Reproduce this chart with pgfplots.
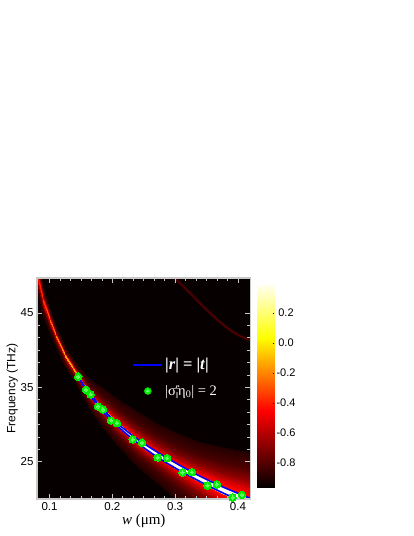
\documentclass[border=0pt]{standalone}
\usepackage{fontspec}
\setmainfont{Liberation Sans}
\newfontfamily\tms{Liberation Serif}
\usepackage{pgfplots}
\pgfplotsset{compat=1.18}
\definecolor{frm}{RGB}{200,200,200}
\definecolor{mkout}{RGB}{0,235,0}
\definecolor{mkin}{RGB}{100,255,100}
\definecolor{ridgea}{RGB}{40,0,0}
\definecolor{ridgeb}{RGB}{85,0,0}
\definecolor{bgk}{RGB}{6,0,0}
\pgfplotsset{
  colormap={hotw}{rgb255(0)=(0,0,0) rgb255(38)=(255,0,0) rgb255(74)=(255,255,0) rgb255(100)=(255,255,240)},
}
\begin{document}
\begin{tikzpicture}[x=1pt,y=1pt]
\useasboundingbox (0,0) rectangle (414,536);
\begin{axis}[
  at={(37pt,37pt)}, anchor=south west,
  scale only axis, width=213.5pt, height=221pt,
  xmin=0.08, xmax=0.42, ymin=20, ymax=49.7,
  xtick={0.1,0.2,0.3,0.4}, xticklabels={0.1,0.2,0.3,0.4},
  ytick={25,35,45}, yticklabels={25,35,45},
  minor x tick num=5, minor y tick num=5,
  tick align=inside,
  major tick length=5pt, minor tick length=3pt,
  tick style={color=frm, line width=0.7pt},
  axis line style={color=frm, line width=1.3pt},
  axis on top=true,
  axis background/.style={fill=bgk},
  point meta min=-0.967, point meta max=0.387,
  tick label style={font=\fontsize{11.5}{13}\selectfont, text=black},
  xlabel={\fontsize{15}{16}\selectfont\tms\textit{w} (μm)},
  ylabel={\fontsize{12}{15}\selectfont Frequency (THz)},
  xlabel style={yshift=3pt},
  ylabel style={yshift=-4pt},
  legend style={at={(axis cs:0.2318,39.2)}, anchor=north west, draw=none, fill=none,
    text=white, font=\fontsize{14.5}{16}\selectfont\tms, row sep=10pt, inner sep=0pt,
    /tikz/every even column/.append style={column sep=2pt}},
  legend cell align=left,
]
% heat map
\addplot[surf, shader=interp, mesh/rows=15, mesh/cols=15, point meta=explicit, forget plot] coordinates {
(0.080,52.52)[-.97] (0.080,52.5)[-.88] (0.080,51.63)[-.85] (0.080,51)[-.72] (0.080,50.55)[-.55] (0.080,50.35)[-.45] (0.080,50.25)[-.42] (0.080,50)[-.42] (0.080,49.75)[-.42] (0.080,49.65)[-.45] (0.080,49.45)[-.55] (0.080,49)[-.72] (0.080,48.38)[-.85] (0.080,47.5)[-.88] (0.080,47.48)[-.97]
(0.090,48.42)[-.97] (0.090,48.4)[-.88] (0.090,47.77)[-.85] (0.090,47.32)[-.72] (0.090,47.0)[-.55] (0.090,46.9)[-.45] (0.090,46.8)[-.35] (0.090,46.6)[-.35] (0.090,46.4)[-.35] (0.090,46.3)[-.45] (0.090,46.16)[-.55] (0.090,45.8)[-.72] (0.090,45.3)[-.85] (0.090,44.6)[-.88] (0.090,44.58)[-.97]
(0.100,45.47)[-.97] (0.100,45.45)[-.88] (0.100,44.93)[-.85] (0.100,44.55)[-.72] (0.100,44.28)[-.55] (0.100,44.2)[-.45] (0.100,44.1)[-.28] (0.100,43.95)[-.28] (0.100,43.8)[-.28] (0.100,43.7)[-.45] (0.100,43.6)[-.55] (0.100,43.31)[-.72] (0.100,42.91)[-.85] (0.100,42.35)[-.88] (0.100,42.33)[-.97]
(0.110,43.12)[-.97] (0.110,43.1)[-.88] (0.110,42.65)[-.85] (0.110,42.32)[-.72] (0.110,42.09)[-.55] (0.110,42.02)[-.45] (0.110,41.92)[-.22] (0.110,41.8)[-.22] (0.110,41.68)[-.22] (0.110,41.58)[-.45] (0.110,41.49)[-.55] (0.110,41.24)[-.72] (0.110,40.89)[-.85] (0.110,40.4)[-.88] (0.110,40.38)[-.97]
(0.125,40.42)[-.97] (0.125,40.4)[-.88] (0.125,39.98)[-.85] (0.125,39.68)[-.72] (0.125,39.46)[-.55] (0.125,39.42)[-.45] (0.125,39.32)[-.15] (0.125,39.2)[-.15] (0.125,39.08)[-.15] (0.125,38.98)[-.45] (0.125,38.89)[-.55] (0.125,38.64)[-.72] (0.125,38.29)[-.85] (0.125,37.8)[-.88] (0.125,37.78)[-.97]
(0.145,37.87)[-.97] (0.145,37.85)[-.89] (0.145,37.36)[-.85] (0.145,37.01)[-.74] (0.145,36.76)[-.58] (0.145,36.67)[-.45] (0.145,36.57)[-.1] (0.145,36.45)[-.1] (0.145,36.33)[-.1] (0.145,36.23)[-.45] (0.145,36.1)[-.58] (0.145,35.81)[-.74] (0.145,35.41)[-.85] (0.145,34.85)[-.89] (0.145,34.83)[-.97]
(0.165,36.17)[-.97] (0.165,36.15)[-.90] (0.165,35.38)[-.84] (0.165,34.83)[-.74] (0.165,34.43)[-.6] (0.165,34.19)[-.45] (0.165,34.09)[-.02] (0.165,33.95)[-.02] (0.165,33.81)[-.02] (0.165,33.71)[-.45] (0.165,33.51)[-.6] (0.165,33.15)[-.74] (0.165,32.65)[-.84] (0.165,31.95)[-.90] (0.165,31.93)[-.97]
(0.185,34.92)[-.97] (0.185,34.9)[-.90] (0.185,33.85)[-.84] (0.185,33.1)[-.74] (0.185,32.56)[-.6] (0.185,32.18)[-.45] (0.185,32.08)[.1] (0.185,31.9)[.1] (0.185,31.72)[.1] (0.185,31.62)[-.45] (0.185,31.39)[-.6] (0.185,30.98)[-.74] (0.185,30.4)[-.84] (0.185,29.6)[-.90] (0.185,29.58)[-.97]
(0.21,33.37)[-.97] (0.21,33.35)[-.90] (0.21,32.13)[-.84] (0.21,31.25)[-.74] (0.21,30.62)[-.6] (0.21,30.15)[-.45] (0.21,30.05)[.25] (0.21,29.85)[.25] (0.21,29.65)[.25] (0.21,29.55)[-.45] (0.21,29.23)[-.6] (0.21,28.73)[-.74] (0.21,28.03)[-.84] (0.21,27.05)[-.90] (0.21,27.03)[-.97]
(0.24,31.82)[-.97] (0.24,31.8)[-.90] (0.24,30.4)[-.84] (0.24,29.4)[-.74] (0.24,28.68)[-.6] (0.24,28.15)[-.45] (0.24,28.05)[.38] (0.24,27.8)[.38] (0.24,27.55)[.38] (0.24,27.45)[-.45] (0.24,27.07)[-.6] (0.24,26.48)[-.74] (0.24,25.66)[-.84] (0.24,24.5)[-.90] (0.24,24.48)[-.97]
(0.27,30.27)[-.97] (0.27,30.25)[-.90] (0.27,28.78)[-.84] (0.27,27.73)[-.74] (0.27,26.97)[-.6] (0.27,26.45)[-.45] (0.27,26.35)[.38] (0.27,26.05)[.38] (0.27,25.75)[.38] (0.27,25.65)[-.45] (0.27,25.21)[-.6] (0.27,24.53)[-.74] (0.27,23.58)[-.84] (0.27,22.25)[-.90] (0.27,22.23)[-.97]
(0.30,29.02)[-.97] (0.30,29)[-.90] (0.30,27.43)[-.84] (0.30,26.3)[-.74] (0.30,25.49)[-.6] (0.30,24.95)[-.45] (0.30,24.85)[.38] (0.30,24.5)[.38] (0.30,24.15)[.38] (0.30,24.05)[-.45] (0.30,23.53)[-.6] (0.30,22.74)[-.74] (0.30,21.64)[-.84] (0.30,20.1)[-.90] (0.30,20.08)[-.97]
(0.335,27.82)[-.97] (0.335,27.8)[-.90] (0.335,26.09)[-.83] (0.335,24.86)[-.71] (0.335,23.98)[-.57] (0.335,23.4)[-.43] (0.335,23.3)[.38] (0.335,22.9)[.38] (0.335,22.5)[.38] (0.335,22.4)[-.43] (0.335,21.8)[-.57] (0.335,20.9)[-.71] (0.335,19.65)[-.83] (0.335,17.9)[-.90] (0.335,17.88)[-.97]
(0.375,26.97)[-.97] (0.375,26.95)[-.90] (0.375,24.96)[-.82] (0.375,23.53)[-.69] (0.375,22.5)[-.53] (0.375,21.77)[-.42] (0.375,21.67)[.38] (0.375,21.25)[.38] (0.375,20.83)[.38] (0.375,20.73)[-.42] (0.375,20.02)[-.53] (0.375,19.01)[-.69] (0.375,17.61)[-.82] (0.375,15.65)[-.90] (0.375,15.63)[-.97]
(0.42,26.27)[-.97] (0.42,26.25)[-.90] (0.42,23.92)[-.80] (0.42,22.26)[-.66] (0.42,21.06)[-.5] (0.42,20.15)[-.42] (0.42,20.05)[.38] (0.42,19.6)[.38] (0.42,19.15)[.38] (0.42,19.05)[-.42] (0.42,18.17)[-.5] (0.42,17)[-.66] (0.42,15.38)[-.80] (0.42,13.1)[-.90] (0.42,13.08)[-.97]
};
% faint second ridge
\addplot[color=ridgea, line width=3pt, smooth, no marks, forget plot] coordinates {(0.297,49.9)(0.3186,48.1)(0.361,44.55)(0.393,42.4)(0.42,41.3)};
\addplot[color=ridgeb, line width=1.2pt, smooth, no marks, forget plot] coordinates {(0.297,49.9)(0.3186,48.1)(0.361,44.55)(0.393,42.4)(0.42,41.3)};
% |r|=|t|
\addplot[color=blue, line width=1.6pt, smooth, no marks, forget plot] coordinates {(0.1457,36.43)(0.158,34.85)(0.165,34.12)(0.185,32.04)(0.21,30.02)(0.24,28.04)(0.27,26.38)(0.30,24.88)(0.335,23.26)(0.375,21.65)(0.42,20.08)};
\addplot[color=blue, line width=1.6pt, smooth, no marks, forget plot] coordinates {(0.1457,36.43)(0.158,34.69)(0.165,33.87)(0.185,31.73)(0.21,29.66)(0.24,27.54)(0.27,25.72)(0.30,24.17)(0.335,22.55)(0.375,20.86)(0.42,19.15)};
% markers
\addplot[only marks, mark=*, mark size=3.8pt, color=mkout, mark options={solid, fill=mkout, draw=mkout, line width=0pt}, forget plot] coordinates {
(0.1457,36.43)(0.158,34.69)(0.1654,34.06)(0.1771,32.44)(0.1851,32.04)(0.1979,30.56)(0.2074,30.2)(0.2324,28.0)(0.2473,27.56)(0.2723,25.58)(0.2872,25.49)(0.3117,23.57)(0.3266,23.61)(0.3516,21.82)(0.3665,21.95)(0.3915,20.2)(0.4064,20.56)};
\addplot[only marks, mark=*, mark size=1.6pt, color=mkin, mark options={solid, fill=mkin, draw=mkin, line width=0pt}, forget plot] coordinates {
(0.1457,36.43)(0.158,34.69)(0.1654,34.06)(0.1771,32.44)(0.1851,32.04)(0.1979,30.56)(0.2074,30.2)(0.2324,28.0)(0.2473,27.56)(0.2723,25.58)(0.2872,25.49)(0.3117,23.57)(0.3266,23.61)(0.3516,21.82)(0.3665,21.95)(0.3915,20.2)(0.4064,20.56)};
\addlegendimage{legend image code/.code={\draw[blue,line width=1.6pt] (0pt,0pt) -- (29pt,0pt);}}
\addlegendentry{\fontsize{16.5}{18}\selectfont\bfseries |\textit{r}| = |\textit{t}|}
\addlegendimage{legend image code/.code={\fill[mkout] (14.5pt,0pt) circle (3.5pt); \fill[mkin] (14.5pt,0pt) circle (1.5pt);}}
\addlegendentry{|σ\rlap{\raisebox{5.5pt}{\fontsize{8.5}{9}\selectfont e}}\raisebox{-3pt}{\fontsize{8.5}{9}\selectfont ‖}η\textsubscript{0}| = 2}
\end{axis}
\begin{axis}[
  at={(257pt,48pt)}, anchor=south west,
  scale only axis, width=17pt, height=203pt,
  xmin=0, xmax=1, ymin=-0.967, ymax=0.387,
  axis line style={draw=none},
  xtick=\empty,
  ytick={-0.8,-0.6,-0.4,-0.2,0,0.2},
  yticklabels={-0.8,-0.6,-0.4,-0.2,0.0,0.2},
  ytick pos=right, yticklabel pos=right,
  tick align=inside, major tick length=1.5pt,
  tick style={color=black, line width=0.4pt},
  axis on top=true,
  point meta min=-0.967, point meta max=0.387,
  tick label style={font=\fontsize{11}{12}\selectfont, text=black},
  yticklabel style={anchor=center, xshift=12pt},
]
\addplot[surf, shader=interp, mesh/rows=2, mesh/cols=2, point meta=y] coordinates {(0,-0.967)(1,-0.967)(0,0.387)(1,0.387)};
\end{axis}
\end{tikzpicture}
\end{document}
